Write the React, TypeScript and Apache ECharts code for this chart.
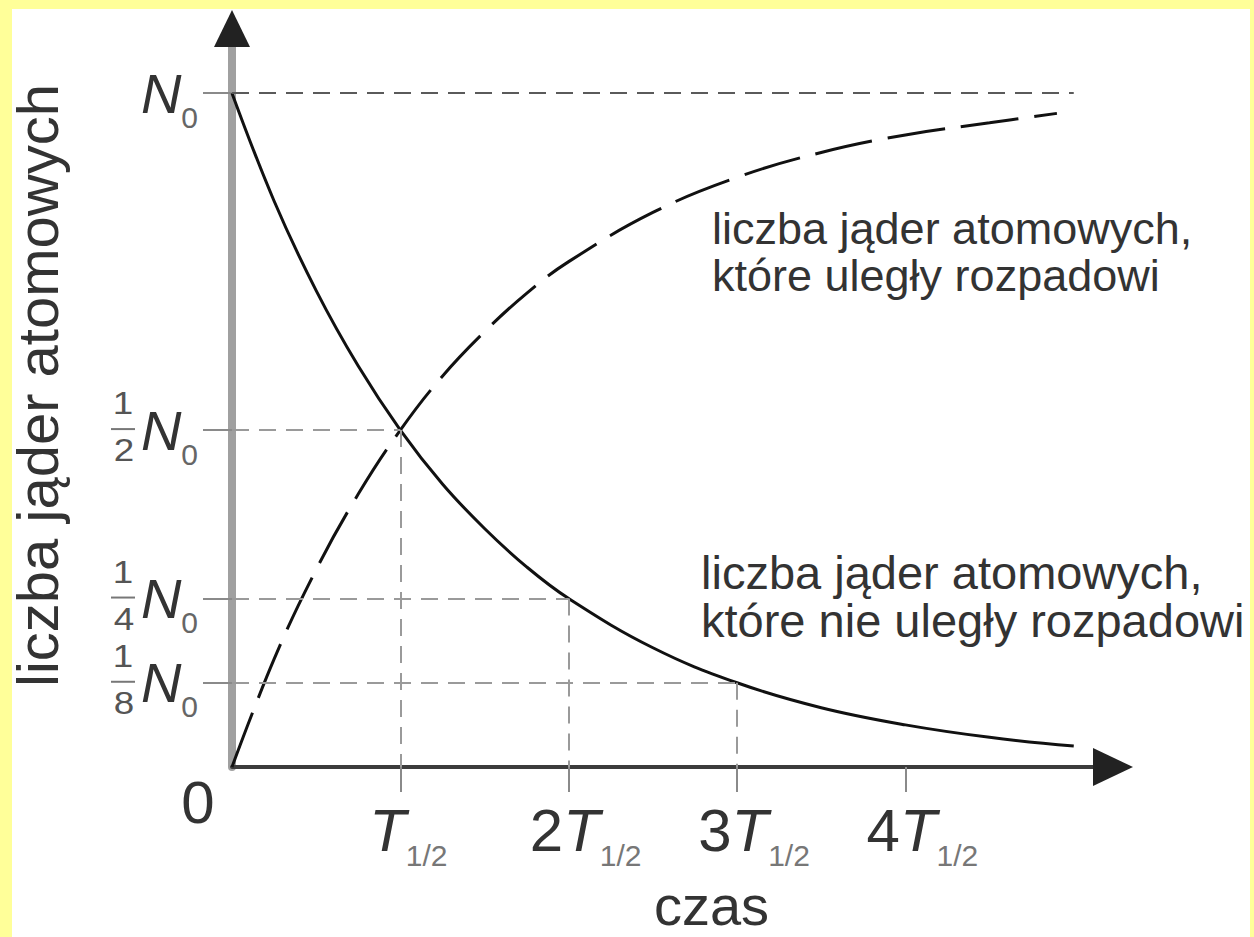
import React, { useEffect, useRef } from "react";
import * as echarts from "echarts";

// Decay curve: remaining nuclei (fraction of N0) against time in half-lives
const decayTimes = [0, 0.25, 0.5, 0.75, 1, 1.25, 1.5, 1.75, 2, 2.5, 3, 3.5, 4, 4.5, 5];
const decayValues = [1, 0.84, 0.707, 0.595, 0.5, 0.42, 0.354, 0.297, 0.25, 0.177, 0.125, 0.088, 0.0625, 0.044, 0.031];

// Growth curve: nuclei that have already decayed
const growthTimes = [0, 0.25, 0.5, 0.75, 1, 1.25, 1.5, 1.75, 2, 2.5, 3, 3.5, 4, 4.5, 4.9];
const growthValues = [0, 0.16, 0.293, 0.405, 0.5, 0.58, 0.646, 0.703, 0.75, 0.823, 0.875, 0.912, 0.938, 0.956, 0.97];

// Axis ticks and labels
const xTickValues = [1, 2, 3, 4];
const xTickFactors = ["", "2", "3", "4"];
const halfLifeSub = "1/2";
const yTickValues = [0.125, 0.25, 0.5, 1];
const yTickDenominators = [8, 4, 2, 0];
const yTickNumerator = "1";
const yTickSymbol = "N";
const yTickSub = "0";
const originLabel = "0";

// Dashed guides: level reached at each half-life
const guideTimes = [1, 2, 3];
const guideLevels = [0.5, 0.25, 0.125];
const fullLevel = 1;
const fullLevelEnd = 5;

const xTitle = "czas";
const yTitle = "liczba jąder atomowych";
const growthNote = "liczba jąder atomowych,\nktóre uległy rozpadowi";
const decayNote = "liczba jąder atomowych,\nktóre nie uległy rozpadowi";

const X_MAX = 5.15;
const Y_MAX = 1.07;
const FONT = '"Liberation Sans", Arial, sans-serif';
const NARROW = '"Liberation Sans Narrow", "Liberation Sans", Arial, sans-serif';

export default function App() {
  const ref = useRef<HTMLDivElement>(null);

  useEffect(() => {
    const el = ref.current!;
    const chart = echarts.init(el, undefined, { renderer: "svg" });

    const guideLines: any[] = [
      [
        { coord: [0, fullLevel], lineStyle: { color: "#5a5a5a" } },
        { coord: [fullLevelEnd, fullLevel] },
      ],
    ];
    guideTimes.forEach((t, i) => {
      guideLines.push([{ coord: [0, guideLevels[i]] }, { coord: [t, guideLevels[i]] }]);
      guideLines.push([{ coord: [t, guideLevels[i]] }, { coord: [t, 0] }]);
    });

    const subStyle = { fontSize: 30, fontFamily: NARROW, color: "#777", verticalAlign: "bottom" };

    chart.setOption({
      animation: false,
      backgroundColor: "#ffff99",
      grid: { left: 232, top: 46, right: 155, bottom: 170, outerBoundsMode: "none", containLabel: false },
      xAxis: {
        type: "value",
        min: 0,
        max: X_MAX,
        axisLine: { show: true, lineStyle: { color: "#3c3c3c", width: 4 } },
        axisTick: {
          show: true,
          customValues: xTickValues,
          length: 25,
          lineStyle: { color: "#8a8a8a", width: 2 },
        },
        axisLabel: {
          customValues: xTickValues,
          margin: 23,
          padding: [0, 0, 0, 34],
          formatter: (v: number) => {
            const f = xTickFactors[xTickValues.indexOf(v)] || "";
            return f ? `{d|${f}}{t|T}{s|${halfLifeSub}}` : `{t|T}{sp|${halfLifeSub}}`;
          },
          rich: {
            d: { fontSize: 60, lineHeight: 80, fontFamily: FONT, color: "#333" },
            t: { fontSize: 60, lineHeight: 80, fontFamily: FONT, fontStyle: "italic", color: "#333" },
            s: subStyle,
            sp: { ...subStyle, padding: [0, 18, 0, 0] },
          },
        },
        splitLine: { show: false },
        name: xTitle,
        nameLocation: "middle",
        nameGap: 118,
        nameTextStyle: { fontSize: 56, lineHeight: 40, fontFamily: FONT, color: "#333", padding: [0, 0, 0, 92] },
      },
      yAxis: {
        type: "value",
        min: 0,
        max: Y_MAX,
        axisLine: { show: true, lineStyle: { color: "#a0a0a0", width: 8 } },
        axisTick: {
          show: true,
          customValues: yTickValues,
          length: 29,
          lineStyle: { color: "#8a8a8a", width: 2 },
        },
        axisLabel: { show: false },
        splitLine: { show: false },
        name: yTitle,
        nameLocation: "middle",
        nameRotate: 90,
        nameGap: 170,
        nameTextStyle: { fontSize: 58, lineHeight: 50, fontFamily: FONT, color: "#333", padding: [0, 0, 0, 42] },
      },
      series: [
        {
          type: "line",
          data: decayTimes.map((t, i) => [t, decayValues[i]]),
          showSymbol: false,
          smooth: 0.4,
          lineStyle: { color: "#111", width: 3 },
          z: 3,
          markLine: {
            silent: true,
            symbol: ["none", "none"],
            label: { show: false },
            lineStyle: { type: [17, 10], width: 2, color: "#9a9a9a" },
            data: guideLines,
          },
        },
        {
          type: "line",
          data: growthTimes.map((t, i) => [t, growthValues[i]]),
          showSymbol: false,
          smooth: 0.4,
          lineStyle: { color: "#111", width: 3, type: [58, 16] },
          z: 3,
        },
      ],
    });

    const px = (x: number, y: number) =>
      chart.convertToPixel({ gridIndex: 0 }, [x, y]) as number[];
    const [ox, oy] = px(0, 0);
    const [xe] = px(X_MAX, 0);
    const [, ye] = px(0, Y_MAX);

    const graphics: any[] = [];

    // white drawing sheet inside the yellow frame
    graphics.push({
      type: "rect",
      shape: { x: 12, y: 9, width: 1238, height: 928 },
      style: { fill: "#ffffff" },
      z: -10,
      silent: true,
    });

    // arrowheads on both axes
    graphics.push({
      type: "polygon",
      shape: { points: [[xe - 6, oy - 19], [xe + 34, oy], [xe - 6, oy + 19]] },
      style: { fill: "#222" },
      z: 10,
    });
    graphics.push({
      type: "polygon",
      shape: { points: [[ox - 18, ye + 1], [ox, ye - 36], [ox + 18, ye + 1]] },
      style: { fill: "#222" },
      z: 10,
    });

    graphics.push({
      type: "text",
      x: ox - 34,
      y: oy + 35,
      style: {
        text: originLabel,
        fontSize: 60,
        fontFamily: FONT,
        fill: "#333",
        align: "center",
        verticalAlign: "middle",
      },
    });

    yTickValues.forEach((v, i) => {
      const [, ty] = px(0, v);
      graphics.push({
        type: "text",
        x: ox - 34,
        y: ty,
        style: {
          text: `{n|${yTickSymbol}}{s|${yTickSub}}`,
          align: "right",
          verticalAlign: "middle",
          rich: {
            n: { fontSize: 56, lineHeight: 78, fontFamily: FONT, fontStyle: "italic", fill: "#333" },
            s: { fontSize: 30, fontFamily: NARROW, fill: "#666", verticalAlign: "bottom" },
          },
        },
      });
      const den = yTickDenominators[i];
      if (den) {
        const cx = ox - 109;
        graphics.push({
          type: "text",
          x: cx,
          y: ty - 27,
          scaleX: 1.15,
          style: { text: yTickNumerator, fontSize: 32, fontFamily: FONT, fill: "#555", align: "center", verticalAlign: "middle" },
        });
        graphics.push({
          type: "line",
          shape: { x1: cx - 12, y1: ty - 1, x2: cx + 12, y2: ty - 1 },
          style: { stroke: "#777", lineWidth: 2 },
        });
        graphics.push({
          type: "text",
          x: cx + 1,
          y: ty + 20,
          scaleX: 1.15,
          style: { text: String(den), fontSize: 32, fontFamily: FONT, fill: "#555", align: "center", verticalAlign: "middle" },
        });
      }
    });

    graphics.push({
      type: "text",
      x: 712,
      y: 205,
      style: { text: growthNote, fontSize: 45, lineHeight: 47, fontFamily: FONT, fill: "#333", align: "left", verticalAlign: "top" },
    });
    graphics.push({
      type: "text",
      x: 701,
      y: 548,
      style: { text: decayNote, fontSize: 47, lineHeight: 48, fontFamily: FONT, fill: "#333", align: "left", verticalAlign: "top" },
    });

    chart.setOption({ graphic: graphics });

    return () => chart.dispose();
  }, []);

  return (
    <div
      ref={ref}
      style={{ position: "fixed", left: 0, top: 0, width: 1254, height: 937 }}
    />
  );
}
